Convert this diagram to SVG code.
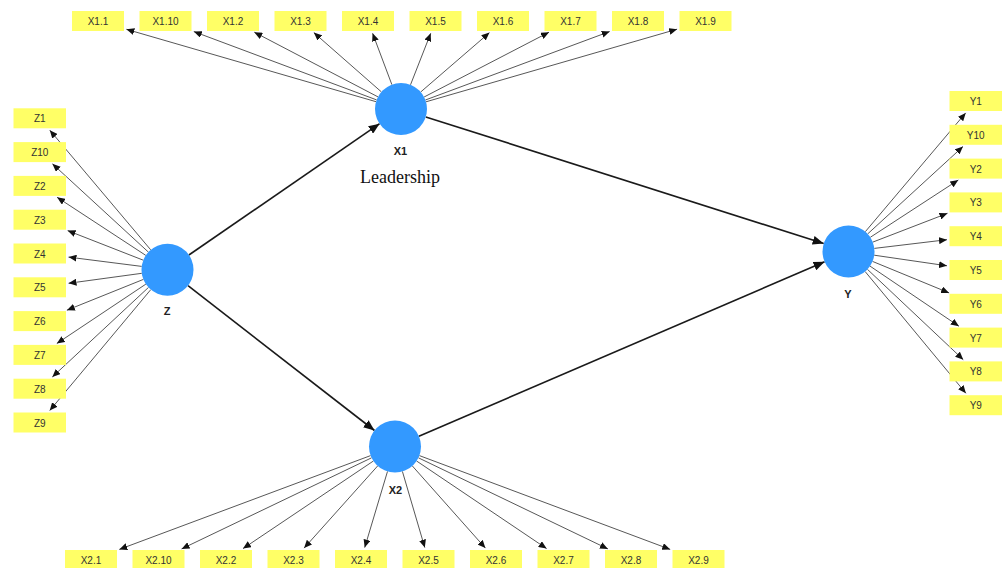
<svg xmlns="http://www.w3.org/2000/svg" width="1005" height="568" viewBox="0 0 1005 568">
  <style>
    .ind rect { fill: #ffff66; }
    .ind text { font-family: "Liberation Sans", Arial, sans-serif; font-size: 10px; fill: #333333; text-anchor: middle; }
    .lv circle { fill: #3399ff; }
    .lv text { font-family: "Liberation Sans", Arial, sans-serif; font-size: 11px; font-weight: bold; fill: #222222; text-anchor: middle; }
    .lv text.caption { font-family: "Liberation Serif", "Times New Roman", serif; font-size: 18px; font-weight: normal; fill: #111111; }
    .load line { stroke: #444444; stroke-width: 0.9; marker-end: url(#tip); }
    .path line { stroke: #1a1a1a; stroke-width: 1.6; marker-end: url(#tipBig); }
  </style>
  <defs>
    <marker id="tip" markerUnits="userSpaceOnUse" markerWidth="8" markerHeight="7" refX="8" refY="3.5" orient="auto">
      <path d="M0,0 L8,3.5 L0,7 z" fill="#111111"/>
    </marker>
    <marker id="tipBig" markerUnits="userSpaceOnUse" markerWidth="11" markerHeight="9" refX="11" refY="4.5" orient="auto">
      <path d="M0,0 L11,4.5 L0,9 z" fill="#111111"/>
    </marker>
  </defs>
  <rect width="1005" height="568" fill="#ffffff"/>

  <!-- connectors -->
  <g id="connectors">
    <g class="path">
      <line x1="188.9" y1="255.0" x2="379.6" y2="123.7"/>
      <line x1="188.0" y1="285.7" x2="374.5" y2="430.5"/>
      <line x1="425.8" y1="116.9" x2="823.7" y2="243.6"/>
      <line x1="418.9" y1="436.2" x2="824.6" y2="261.8"/>
    </g>
    <g class="load">
      <!-- X1 indicators -->
      <line x1="376.0" y1="101.7" x2="126.4" y2="29.3"/>
      <line x1="376.6" y1="99.9" x2="193.8" y2="31.6"/>
      <line x1="378.0" y1="96.9" x2="254.3" y2="32.2"/>
      <line x1="381.4" y1="91.9" x2="313.8" y2="32.6"/>
      <line x1="391.9" y1="84.7" x2="372.6" y2="33.3"/>
      <line x1="410.5" y1="84.8" x2="430.7" y2="33.3"/>
      <line x1="420.7" y1="92.0" x2="489.5" y2="32.6"/>
      <line x1="424.1" y1="97.0" x2="549.0" y2="32.2"/>
      <line x1="425.4" y1="100.0" x2="609.7" y2="31.5"/>
      <line x1="426.0" y1="101.8" x2="677.1" y2="29.2"/>
      <!-- X2 indicators -->
      <line x1="370.6" y1="455.6" x2="119.3" y2="549.4"/>
      <line x1="371.6" y1="457.8" x2="181.6" y2="548.9"/>
      <line x1="373.4" y1="461.0" x2="243.0" y2="548.6"/>
      <line x1="377.7" y1="465.9" x2="304.1" y2="548.1"/>
      <line x1="387.5" y1="471.4" x2="364.7" y2="547.6"/>
      <line x1="402.4" y1="471.4" x2="424.8" y2="547.6"/>
      <line x1="412.3" y1="465.9" x2="485.4" y2="548.1"/>
      <line x1="416.6" y1="461.0" x2="546.6" y2="548.6"/>
      <line x1="418.4" y1="457.8" x2="607.9" y2="548.9"/>
      <line x1="419.4" y1="455.6" x2="670.2" y2="549.4"/>
      <!-- Z indicators -->
      <line x1="150.7" y1="249.8" x2="49.8" y2="130.2"/>
      <line x1="148.4" y1="252.1" x2="52.4" y2="163.8"/>
      <line x1="145.8" y1="255.4" x2="57.1" y2="197.3"/>
      <line x1="143.3" y1="260.2" x2="67.6" y2="230.6"/>
      <line x1="141.7" y1="266.4" x2="68.5" y2="257.1"/>
      <line x1="141.8" y1="273.3" x2="68.5" y2="283.3"/>
      <line x1="143.4" y1="279.4" x2="66.9" y2="310.2"/>
      <line x1="145.9" y1="284.1" x2="56.8" y2="343.5"/>
      <line x1="148.5" y1="287.4" x2="52.3" y2="377.0"/>
      <line x1="150.8" y1="289.6" x2="49.7" y2="410.6"/>
      <!-- Y indicators -->
      <line x1="865.3" y1="231.7" x2="965.7" y2="112.9"/>
      <line x1="867.7" y1="233.9" x2="963.0" y2="146.5"/>
      <line x1="870.3" y1="237.3" x2="958.3" y2="180.0"/>
      <line x1="872.8" y1="242.1" x2="947.5" y2="213.3"/>
      <line x1="874.3" y1="248.4" x2="947.0" y2="239.7"/>
      <line x1="874.2" y1="255.2" x2="947.0" y2="265.8"/>
      <line x1="872.5" y1="261.4" x2="949.1" y2="292.9"/>
      <line x1="870.0" y1="266.1" x2="958.9" y2="326.2"/>
      <line x1="867.4" y1="269.3" x2="963.3" y2="359.7"/>
      <line x1="865.1" y1="271.5" x2="965.9" y2="393.3"/>
    </g>
  </g>

  <!-- latent variables -->
  <g id="X1" class="lv">
    <circle cx="401" cy="109" r="26"/>
    <text x="400.5" y="155">X1</text>
    <text class="caption" x="400" y="183">Leadership</text>
  </g>
  <g id="X2" class="lv">
    <circle cx="395" cy="446.5" r="26"/>
    <text x="395.5" y="494">X2</text>
  </g>
  <g id="Z" class="lv">
    <circle cx="167.5" cy="269.7" r="26"/>
    <text x="167" y="315">Z</text>
  </g>
  <g id="Y" class="lv">
    <circle cx="848.5" cy="251.5" r="26"/>
    <text x="848" y="298">Y</text>
  </g>

  <!-- X1 indicators -->
  <g id="X1.1" class="ind"><rect x="72" y="11" width="52" height="20"/><text x="98" y="25">X1.1</text></g>
  <g id="X1.10" class="ind"><rect x="139.5" y="11" width="52" height="20"/><text x="165.5" y="25">X1.10</text></g>
  <g id="X1.2" class="ind"><rect x="207" y="11" width="52" height="20"/><text x="233" y="25">X1.2</text></g>
  <g id="X1.3" class="ind"><rect x="274.5" y="11" width="52" height="20"/><text x="300.5" y="25">X1.3</text></g>
  <g id="X1.4" class="ind"><rect x="342" y="11" width="52" height="20"/><text x="368" y="25">X1.4</text></g>
  <g id="X1.5" class="ind"><rect x="409.5" y="11" width="52" height="20"/><text x="435.5" y="25">X1.5</text></g>
  <g id="X1.6" class="ind"><rect x="477" y="11" width="52" height="20"/><text x="503" y="25">X1.6</text></g>
  <g id="X1.7" class="ind"><rect x="544.5" y="11" width="52" height="20"/><text x="570.5" y="25">X1.7</text></g>
  <g id="X1.8" class="ind"><rect x="612" y="11" width="52" height="20"/><text x="638" y="25">X1.8</text></g>
  <g id="X1.9" class="ind"><rect x="679.5" y="11" width="52" height="20"/><text x="705.5" y="25">X1.9</text></g>

  <!-- X2 indicators -->
  <g id="X2.1" class="ind"><rect x="65" y="550" width="52" height="20"/><text x="91" y="564">X2.1</text></g>
  <g id="X2.10" class="ind"><rect x="132.5" y="550" width="52" height="20"/><text x="158.5" y="564">X2.10</text></g>
  <g id="X2.2" class="ind"><rect x="200" y="550" width="52" height="20"/><text x="226" y="564">X2.2</text></g>
  <g id="X2.3" class="ind"><rect x="267.5" y="550" width="52" height="20"/><text x="293.5" y="564">X2.3</text></g>
  <g id="X2.4" class="ind"><rect x="335" y="550" width="52" height="20"/><text x="361" y="564">X2.4</text></g>
  <g id="X2.5" class="ind"><rect x="402.5" y="550" width="52" height="20"/><text x="428.5" y="564">X2.5</text></g>
  <g id="X2.6" class="ind"><rect x="470" y="550" width="52" height="20"/><text x="496" y="564">X2.6</text></g>
  <g id="X2.7" class="ind"><rect x="537.5" y="550" width="52" height="20"/><text x="563.5" y="564">X2.7</text></g>
  <g id="X2.8" class="ind"><rect x="605" y="550" width="52" height="20"/><text x="631" y="564">X2.8</text></g>
  <g id="X2.9" class="ind"><rect x="672.5" y="550" width="52" height="20"/><text x="698.5" y="564">X2.9</text></g>

  <!-- Z indicators -->
  <g id="Z1" class="ind"><rect x="13.5" y="108.3" width="52.5" height="20"/><text x="39.75" y="122.3">Z1</text></g>
  <g id="Z10" class="ind"><rect x="13.5" y="142.1" width="52.5" height="20"/><text x="39.75" y="156.1">Z10</text></g>
  <g id="Z2" class="ind"><rect x="13.5" y="175.9" width="52.5" height="20"/><text x="39.75" y="189.9">Z2</text></g>
  <g id="Z3" class="ind"><rect x="13.5" y="209.7" width="52.5" height="20"/><text x="39.75" y="223.7">Z3</text></g>
  <g id="Z4" class="ind"><rect x="13.5" y="243.5" width="52.5" height="20"/><text x="39.75" y="257.5">Z4</text></g>
  <g id="Z5" class="ind"><rect x="13.5" y="277.3" width="52.5" height="20"/><text x="39.75" y="291.3">Z5</text></g>
  <g id="Z6" class="ind"><rect x="13.5" y="311.1" width="52.5" height="20"/><text x="39.75" y="325.1">Z6</text></g>
  <g id="Z7" class="ind"><rect x="13.5" y="344.9" width="52.5" height="20"/><text x="39.75" y="358.9">Z7</text></g>
  <g id="Z8" class="ind"><rect x="13.5" y="378.7" width="52.5" height="20"/><text x="39.75" y="392.7">Z8</text></g>
  <g id="Z9" class="ind"><rect x="13.5" y="412.5" width="52.5" height="20"/><text x="39.75" y="426.5">Z9</text></g>

  <!-- Y indicators -->
  <g id="Y1" class="ind"><rect x="949.5" y="91" width="52.5" height="20"/><text x="975.75" y="105">Y1</text></g>
  <g id="Y10" class="ind"><rect x="949.5" y="124.8" width="52.5" height="20"/><text x="975.75" y="138.8">Y10</text></g>
  <g id="Y2" class="ind"><rect x="949.5" y="158.6" width="52.5" height="20"/><text x="975.75" y="172.6">Y2</text></g>
  <g id="Y3" class="ind"><rect x="949.5" y="192.4" width="52.5" height="20"/><text x="975.75" y="206.4">Y3</text></g>
  <g id="Y4" class="ind"><rect x="949.5" y="226.2" width="52.5" height="20"/><text x="975.75" y="240.2">Y4</text></g>
  <g id="Y5" class="ind"><rect x="949.5" y="260" width="52.5" height="20"/><text x="975.75" y="274">Y5</text></g>
  <g id="Y6" class="ind"><rect x="949.5" y="293.8" width="52.5" height="20"/><text x="975.75" y="307.8">Y6</text></g>
  <g id="Y7" class="ind"><rect x="949.5" y="327.6" width="52.5" height="20"/><text x="975.75" y="341.6">Y7</text></g>
  <g id="Y8" class="ind"><rect x="949.5" y="361.4" width="52.5" height="20"/><text x="975.75" y="375.4">Y8</text></g>
  <g id="Y9" class="ind"><rect x="949.5" y="395.2" width="52.5" height="20"/><text x="975.75" y="409.2">Y9</text></g>
</svg>
